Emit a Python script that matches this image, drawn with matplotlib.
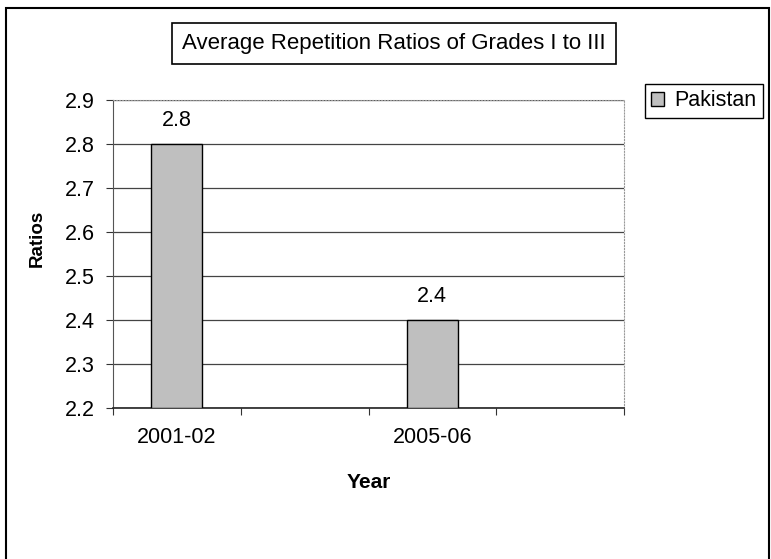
import numpy as np
import matplotlib
matplotlib.use('Agg')
import matplotlib.pyplot as plt
from matplotlib.patches import Rectangle

# --- data ---
categories = ['2001-02', '', '2005-06', '']
ratios = [2.8, None, 2.4, None]
series_name = 'Pakistan'
title = 'Average Repetition Ratios of Grades I to III'
y_ticks = [2.2, 2.3, 2.4, 2.5, 2.6, 2.7, 2.8, 2.9]

plt.rcParams['font.family'] = ['Liberation Sans', 'DejaVu Sans']

W, H = 771, 559
fig = plt.figure(figsize=(W / 100, H / 100), dpi=100)

def px(x0, y0, x1, y1):
    # pixel box -> figure fraction [l, b, w, h]
    return [x0 / W, 1 - y1 / H, (x1 - x0) / W, (y1 - y0) / H]

ax = fig.add_axes(px(113, 100, 624, 408))

pos = np.arange(len(categories))
idx = [i for i, v in enumerate(ratios) if v is not None]
vals = [ratios[i] for i in idx]
bars = ax.bar(pos[idx], np.array(vals) - 2.2, bottom=2.2, width=0.4,
              color='#bfbfbf', edgecolor='black', linewidth=1.0,
              label=series_name, zorder=3)

for i, v in zip(idx, vals):
    ax.text(pos[i], v + 0.03, f'{v}', ha='center', va='bottom', fontsize=15.5)

ax.set_ylim(2.2, 2.9)
ax.set_xlim(-0.5, len(categories) - 0.5)
ax.set_yticks(y_ticks)
ax.set_yticklabels([f'{t:.1f}' for t in y_ticks], fontsize=15.5)
ax.yaxis.grid(True, color='#444444', linewidth=0.9, zorder=0)

# category boundary ticks, labels at centres
ax.set_xticks(np.arange(-0.5, len(categories), 1.0))
ax.set_xticklabels([])
ax.set_xticks(pos[idx], minor=True)
ax.set_xticklabels([categories[i] for i in idx], minor=True, fontsize=15.5)
ax.tick_params(axis='x', which='minor', length=0, pad=14)
ax.tick_params(axis='x', which='major', length=5, direction='out', color='#333333')
ax.tick_params(axis='y', length=5, direction='out', color='#333333', pad=8)

for s in ['top', 'right']:
    ax.spines[s].set_color('#999999')
    ax.spines[s].set_linestyle(':')
ax.spines['left'].set_color('#555555')
ax.spines['bottom'].set_color('#222222')
ax.spines['bottom'].set_linewidth(1.2)

ax.set_ylabel('Ratios', fontsize=13.5, fontweight='bold')
ax.yaxis.set_label_coords(-(113 - 37) / 511, (408 - 238) / 308)
ax.yaxis.label.set_va('center')
ax.set_xlabel('Year', fontsize=15, fontweight='bold')
ax.xaxis.set_label_coords(0.5, -(482 - 408) / 308)
ax.xaxis.label.set_va('center')

# title box
fig.patches.append(Rectangle((172 / W, 1 - 64 / H), (616 - 172) / W, 41 / H,
                             transform=fig.transFigure, fill=False,
                             edgecolor='black', linewidth=1.2))
fig.text(394 / W, 1 - 44 / H, title, ha='center', va='center', fontsize=16)

# outer frame
fig.patches.append(Rectangle((6 / W, -0.1), (769 - 6) / W, 1.1 - 8 / H,
                             transform=fig.transFigure, fill=False,
                             edgecolor='black', linewidth=1.5))

leg = fig.legend(handles=[bars], labels=[series_name], loc='upper left',
                 bbox_to_anchor=(645 / W, 1 - 84 / H), fontsize=15.5,
                 fancybox=False, edgecolor='black', framealpha=1,
                 handlelength=0.6, handleheight=0.6, handletextpad=0.45,
                 borderpad=0.3, borderaxespad=0)
leg.get_frame().set_linewidth(1.0)

fig.savefig('out.png', dpi=100)
